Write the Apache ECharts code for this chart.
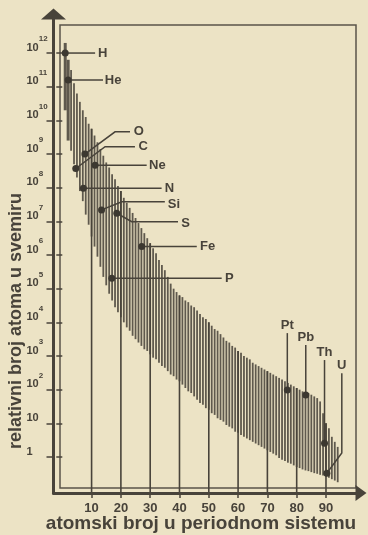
<!DOCTYPE html>
<html>
<head>
<meta charset="utf-8">
<title>relativni broj atoma u svemiru</title>
<script src="https://cdn.jsdelivr.net/npm/echarts@6.0.0/dist/echarts.min.js"></script>
<style>
  html, body { margin: 0; padding: 0; background: #ece3c5; }
  #chart { width: 368px; height: 535px; }
</style>
</head>
<body>
<div id="chart"></div>
<script>
// atomic numbers, one hatch line per element
const atomicNumbers = [
  1, 2, 3, 4, 5, 6, 7, 8, 9, 10,
  11, 12, 13, 14, 15, 16, 17, 18, 19, 20,
  21, 22, 23, 24, 25, 26, 27, 28, 29, 30,
  31, 32, 33, 34, 35, 36, 37, 38, 39, 40,
  41, 42, 43, 44, 45, 46, 47, 48, 49, 50,
  51, 52, 53, 54, 55, 56, 57, 58, 59, 60,
  61, 62, 63, 64, 65, 66, 67, 68, 69, 70,
  71, 72, 73, 74, 75, 76, 77, 78, 79, 80,
  81, 82, 83, 84, 85, 86, 87, 88, 89, 90,
  91, 92, 93, 94
];
// log10 of relative abundance: upper and lower end of each hatch line
const bandTop = [
  12.3, 11.8, 11.5, 11.1, 10.8, 10.55, 10.3, 10.1, 9.9, 9.75,
  9.55, 9.35, 9.15, 8.95, 8.75, 8.6, 8.4, 8.25, 8.05, 7.9,
  7.7, 7.55, 7.4, 7.25, 7.1, 6.95, 6.8, 6.65, 6.5, 6.35,
  6.2, 6.05, 5.85, 5.7, 5.55, 5.35, 5.15, 5.0, 4.9, 4.8,
  4.75, 4.65, 4.6, 4.5, 4.45, 4.35, 4.25, 4.15, 4.1, 4.0,
  3.9, 3.8, 3.75, 3.65, 3.55, 3.45, 3.4, 3.3, 3.25, 3.15,
  3.1, 3.0, 2.95, 2.9, 2.8, 2.75, 2.7, 2.65, 2.6, 2.55,
  2.5, 2.45, 2.4, 2.35, 2.3, 2.25, 2.2, 2.15, 2.1, 2.05,
  2.0, 1.95, 1.9, 1.9, 1.85, 1.8, 1.75, 1.65, 1.3, 1.0,
  0.85, 0.6, 0.45, 0.3
];
const bandBottom = [
  10.3, 9.4, 9.1, 8.7, 8.3, 7.9, 7.6, 7.2, 6.9, 6.55,
  6.25, 5.95, 5.65, 5.35, 5.1, 4.85, 4.65, 4.45, 4.3, 4.15,
  4.0, 3.85, 3.75, 3.6, 3.5, 3.4, 3.3, 3.2, 3.15, 3.05,
  2.95, 2.9, 2.8, 2.7, 2.65, 2.55, 2.45, 2.4, 2.3, 2.25,
  2.15, 2.05, 1.95, 1.9, 1.8, 1.7, 1.6, 1.55, 1.45, 1.4,
  1.3, 1.25, 1.15, 1.1, 1.05, 0.95, 0.9, 0.85, 0.75, 0.72,
  0.65, 0.6, 0.55, 0.5, 0.45, 0.4, 0.35, 0.3, 0.25, 0.2,
  0.15, 0.1, 0.05, -0.03, -0.08, -0.12, -0.17, -0.2, -0.25, -0.3,
  -0.33, -0.37, -0.4, -0.42, -0.45, -0.48, -0.5, -0.53, -0.55, -0.58,
  -0.62, -0.66, -0.7, -0.75
];
// hatch lines that run on down to the axis
const decadeStems = [10, 20, 30, 40, 50, 60, 70, 80, 90];
const xTickValues = [10, 20, 30, 40, 50, 60, 70, 80, 90];
const yTickExponents = [0, 1, 2, 3, 4, 5, 6, 7, 8, 9, 10, 11, 12];

// marked elements (position as drawn, log10 abundance)
const elementNames = ['H', 'He', 'C', 'O', 'N', 'Ne', 'Si', 'S', 'P', 'Fe', 'Pt', 'Pb', 'Th', 'U'];
const elementZ = [1, 2, 4.6, 7.7, 7.2, 11.2, 13.4, 18.6, 16.9, 27.1, 76.8, 83.1, 89.5, 90.3];
const elementLog = [12.0, 11.2, 8.57, 9.0, 7.98, 8.67, 7.34, 7.24, 5.31, 6.25, 1.99, 1.84, 0.41, -0.48];

// leader lines and label anchors, in axis units
const leaderPaths = [
  [[11.2, 12.0]],
  [[13.9, 11.2]],
  [[14.6, 9.22], [24.8, 9.22]],
  [[18, 9.66], [23.1, 9.66]],
  [[33.9, 7.98]],
  [[28.8, 8.67]],
  [[20.3, 7.58], [35, 7.58]],
  [[23.7, 6.99], [39.5, 6.99]],
  [[54.4, 5.31]],
  [[45.9, 6.25]],
  [[76.8, 3.68]],
  [[83.1, 3.33]],
  [[89.5, 2.88]],
  [[95.4, 0.12], [95.4, 2.49]]
];
const labelAt = [
  [12.2, 12.0], [14.5, 11.2], [26, 9.22], [24.4, 9.66], [35, 7.98], [29.6, 8.67], [36, 7.5],
  [40.6, 6.93], [55.5, 5.31], [47, 6.25], [76.8, 3.72], [83.1, 3.37], [89.5, 2.92], [95.4, 2.53]
];

const INK = '#48433a';
const BG = '#ece3c5';
const FONT = '"Liberation Sans", Arial, sans-serif';

const chart = echarts.init(document.getElementById('chart'));

const band = atomicNumbers.map((z, i) => [z, bandBottom[i], bandTop[i]]);
const stems = decadeStems.map(z => [z, bandTop[atomicNumbers.indexOf(z)]]);
const elements = elementNames.map((n, i) => [elementZ[i], elementLog[i]]);

const yLabel = v => {
  if (v === 0) return '{b|1}';
  if (v === 1) return '{b|10}';
  return '{b|10}{s|' + v + '}';
};

const option = {
  backgroundColor: BG,
  animation: false,
  grid: [
    { left: 53.5, right: 7, top: 14, bottom: 42 },
    { left: 60, right: 12, top: 25, bottom: 47, show: true, borderColor: '#59544a', borderWidth: 1.5 }
  ],
  xAxis: [
    {
      type: 'value', gridIndex: 0, min: -3.0, max: 101.95,
      splitLine: { show: false },
      axisLine: {
        show: true, onZero: false,
        lineStyle: { color: INK, width: 3 },
        symbol: ['none', 'triangle'], symbolSize: [16, 11]
      },
      axisTick: { show: true, length: 5, customValues: xTickValues, lineStyle: { color: INK, width: 1.5 } },
      axisLabel: {
        customValues: xTickValues, margin: 9, color: INK,
        fontSize: 13, fontWeight: 'bold', fontFamily: FONT
      }
    },
    { type: 'value', gridIndex: 1, show: false, min: 0, max: 1 }
  ],
  yAxis: [
    {
      type: 'value', gridIndex: 0, min: -1.07, max: 13.16,
      splitLine: { show: false },
      axisLine: {
        show: true, onZero: false,
        lineStyle: { color: INK, width: 3 },
        symbol: ['none', 'triangle'], symbolSize: [25, 11]
      },
      axisTick: { show: true, length: 7, customValues: yTickExponents, lineStyle: { color: INK, width: 1.5 } },
      axisLabel: {
        customValues: yTickExponents, formatter: yLabel, margin: 27, align: 'left',
        padding: [0, 0, 18, 0],
        rich: {
          b: { fontSize: 11, fontWeight: 'bold', fontFamily: FONT, color: INK, lineHeight: 18, verticalAlign: 'bottom' },
          s: { fontSize: 8, fontWeight: 'bold', fontFamily: FONT, color: INK, lineHeight: 8, verticalAlign: 'top' }
        }
      }
    },
    {
      type: 'value', gridIndex: 0, min: -1.07, max: 13.16,
      splitLine: { show: false }, axisLine: { show: false }, axisLabel: { show: false },
      axisTick: { show: true, inside: true, length: 6, customValues: yTickExponents, lineStyle: { color: INK, width: 1.5 } }
    },
    { type: 'value', gridIndex: 1, show: false, min: 0, max: 1 }
  ],
  graphic: [
    {
      type: 'text', x: 16, y: 321, rotation: Math.PI / 2,
      style: { text: 'relativni broj atoma u svemiru', font: 'bold 18px ' + FONT, fill: INK, align: 'center', verticalAlign: 'middle' }
    },
    {
      type: 'text', x: 201, y: 524,
      style: { text: 'atomski broj u periodnom sistemu', font: 'bold 19px ' + FONT, fill: INK, align: 'center', verticalAlign: 'middle' }
    }
  ],
  series: [
    {
      type: 'custom', name: 'opseg', xAxisIndex: 0, yAxisIndex: 0,
      data: band,
      renderItem: (params, api) => {
        const z = api.value(0);
        const lo = api.coord([z, api.value(1)]);
        const hi = api.coord([z, api.value(2)]);
        return {
          type: 'line',
          shape: { x1: lo[0], y1: lo[1], x2: hi[0], y2: hi[1] },
          style: { stroke: '#5f594d', lineWidth: z <= 2 ? 3 : 1.8 }
        };
      },
      z: 2
    },
    {
      type: 'custom', name: 'stems', xAxisIndex: 0, yAxisIndex: 0,
      data: stems,
      renderItem: (params, api) => {
        const top = api.coord([api.value(0), api.value(1)]);
        const bottom = params.coordSys.y + params.coordSys.height;
        return {
          type: 'line',
          shape: { x1: top[0], y1: top[1], x2: top[0], y2: bottom },
          style: { stroke: INK, lineWidth: 1.6 }
        };
      },
      z: 3
    },
    {
      type: 'custom', name: 'elementi', xAxisIndex: 0, yAxisIndex: 0,
      data: elements,
      renderItem: (params, api) => {
        const i = params.dataIndex;
        const p = api.coord([api.value(0), api.value(1)]);
        const pts = [p].concat(leaderPaths[i].map(q => api.coord(q)));
        const lab = api.coord(labelAt[i]);
        const above = i >= 10;
        return {
          type: 'group',
          children: [
            { type: 'polyline', shape: { points: pts }, style: { stroke: INK, lineWidth: 1.5, fill: null } },
            { type: 'circle', shape: { cx: p[0], cy: p[1], r: 3.5 }, style: { fill: '#3c3830' } },
            {
              type: 'text', x: lab[0], y: lab[1],
              style: {
                text: elementNames[i], font: 'bold 13px ' + FONT, fill: INK,
                align: above ? 'center' : 'left', verticalAlign: above ? 'bottom' : 'middle'
              }
            }
          ]
        };
      },
      z: 5
    }
  ]
};

chart.setOption(option);
</script>
</body>
</html>
